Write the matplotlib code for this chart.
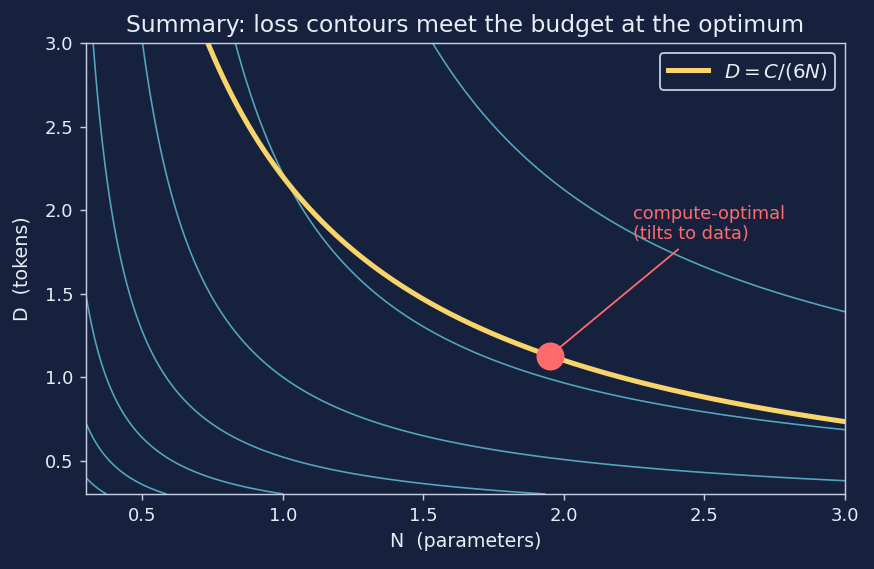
import numpy as np
import matplotlib
matplotlib.use("Agg")
import matplotlib.pyplot as plt

# loss surface L = A/N^alpha + B/D^beta (normalised units)
A = 1.0
B = 1.0
alpha = 0.34
beta = 0.28
levels = [1.6, 1.8, 2.0, 2.2, 2.4, 2.6, 2.8]

budget = 2.2          # C/6
opt_N = 1.95          # compute-optimal point on the budget curve
opt_D = 1.128

n_range = (0.3, 3.0)
d_range = (0.3, 3.0)

bg = "#16213e"
fg = "#e8ecf4"
spine_c = "#c5cde0"
teal = "#56aec4"
gold = "#f7d56a"
coral = "#ff6b6b"

dpi = 130
fig = plt.figure(figsize=(874 / dpi, 569 / dpi), dpi=dpi, facecolor=bg)
ax = fig.add_axes([0.0984, 0.1318, 0.8684, 0.7926])
ax.set_facecolor(bg)

N = np.linspace(n_range[0], n_range[1], 400)
D = np.linspace(d_range[0], d_range[1], 400)
NN, DD = np.meshgrid(N, D)
L = A / NN**alpha + B / DD**beta
ax.contour(NN, DD, L, levels=levels, colors=teal, linewidths=0.9, alpha=0.95)

ax.plot(N, budget / N, color=gold, lw=2.8, label=r"$D = C/(6N)$", zorder=3)
ax.plot(opt_N, opt_D, "o", color=coral, markersize=14.5, zorder=4)

ax.annotate("compute-optimal\n(tilts to data)", xy=(opt_N, opt_D),
            xytext=(2.245, 1.80), color=coral, fontsize=9.8,
            ha="left", va="bottom",
            arrowprops=dict(arrowstyle="-", color=coral, lw=1.0))

ax.set_xlim(*n_range)
ax.set_ylim(*d_range)
ax.set_xlabel("N  (parameters)", color=fg, fontsize=10.5)
ax.set_ylabel("D  (tokens)", color=fg, fontsize=10.5, labelpad=7)
ax.set_title("Summary: loss contours meet the budget at the optimum",
             color=fg, fontsize=13)
ax.tick_params(colors=spine_c, labelcolor=fg, labelsize=10)
for s in ax.spines.values():
    s.set_color(spine_c)

leg = ax.legend(loc="upper right", fontsize=11, facecolor=bg,
                edgecolor=spine_c, framealpha=1)
for t in leg.get_texts():
    t.set_color(fg)

fig.savefig("out.png", dpi=dpi, facecolor=bg)
